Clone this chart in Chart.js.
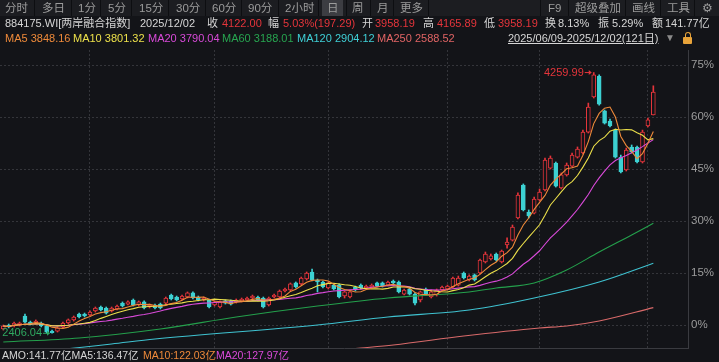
<!DOCTYPE html>
<html>
<head>
<meta charset="utf-8">
<script src="https://cdn.jsdelivr.net/npm/chart.js"></script>
<style>
  body { margin: 0; background: #131418; width: 719px; height: 362px; overflow: hidden; position: relative;
         font-family: "Liberation Sans", "Noto Sans CJK SC", sans-serif; }
  canvas { position: absolute; left: 0; top: 0; }
  .bar { position: absolute; left: 0; top: 0; width: 719px; height: 16px; background: #1c1d21; }
  .t { position: absolute; white-space: nowrap; font-size: 11px; line-height: 14px; color: #d6d6d6; }
  .tb { color: #9c9c9c; font-size: 11.5px; }
  .sm { font-size: 10.5px; }
  .sep { position: absolute; top: 0; width: 1px; height: 16px; background: #0d0e11; }
  .sel { position: absolute; left: 322px; top: 0; width: 21px; height: 16px; background: #3c3d42; }
  .red { color: #e5353b; }
  .lock { position: absolute; left: 683px; top: 37px; width: 9px; height: 7px; background: #e8a33a; border-radius: 1px; }
  .shackle { position: absolute; left: 684.5px; top: 32px; width: 4px; height: 5px; border: 1.5px solid #e8a33a; border-bottom: none; border-radius: 3px 3px 0 0; }
</style>
</head>
<body>
<canvas id="kline" width="719" height="362"></canvas>

<div class="bar"></div>
<div id="toolbar"></div>
<div id="info"></div>
<div id="ma-row"></div>
<div class="t" style="left:508px;top:31px;text-decoration:underline;">2025/06/09-2025/12/02(121日)</div>
<div class="t" style="left:665px;top:31px;color:#8a8a8a;font-size:10px;">▼</div>
<div class="shackle"></div>
<div class="lock"></div>
<div id="amo-row"></div>

<script>
// Daily OHLC, 2025/06/09 - 2025/12/02 (121 trading days)
const opens = [
  2437, 2465, 2458, 2465, 2529, 2486, 2479, 2479, 2458, 2422,
  2422, 2451, 2479, 2501, 2543, 2543, 2536, 2565, 2593, 2586,
  2565, 2579, 2621, 2614, 2643, 2607, 2629, 2593, 2607, 2614,
  2621, 2678, 2664, 2650, 2664, 2693, 2664, 2643, 2643, 2607,
  2593, 2636, 2636, 2629, 2636, 2643, 2657, 2664, 2657, 2607,
  2664, 2664, 2707, 2714, 2764, 2757, 2792, 2842, 2785, 2771,
  2728, 2749, 2749, 2671, 2664, 2735, 2749, 2728, 2735, 2764,
  2764, 2749, 2778, 2771, 2685, 2721, 2685, 2643, 2721, 2664,
  2678, 2714, 2721, 2735, 2749, 2835, 2785, 2821, 2835, 2913,
  2934, 2970, 2913, 3034, 3069, 3226, 3460, 3268, 3261, 3354,
  3425, 3581, 3617, 3439, 3532, 3595, 3659, 3688, 3837, 4086,
  4235, 3987, 3915, 3851, 3659, 3567, 3731, 3731, 3624, 3880,
  3958.19
];
const highs = [
  2465, 2472, 2486, 2486, 2543, 2493, 2501, 2486, 2465, 2429,
  2451, 2486, 2508, 2529, 2550, 2550, 2565, 2593, 2600, 2593,
  2593, 2607, 2629, 2636, 2650, 2636, 2636, 2614, 2614, 2621,
  2664, 2685, 2671, 2678, 2700, 2700, 2671, 2664, 2650, 2636,
  2636, 2643, 2643, 2650, 2657, 2664, 2678, 2671, 2664, 2664,
  2685, 2714, 2728, 2764, 2771, 2806, 2842, 2863, 2792, 2778,
  2771, 2757, 2757, 2707, 2707, 2742, 2757, 2749, 2757, 2771,
  2771, 2778, 2785, 2778, 2721, 2728, 2693, 2707, 2728, 2714,
  2721, 2742, 2749, 2806, 2813, 2842, 2821, 2828, 2934, 2984,
  2970, 2977, 2998, 3084, 3176, 3404, 3468, 3283, 3375, 3432,
  3652, 3667, 3624, 3546, 3617, 3688, 3731, 3851, 4043, 4259.99,
  4243, 3994, 3930, 3859, 3674, 3723, 3745, 3738, 3851, 3937,
  4165.89
];
const lows = [
  2429, 2444, 2451, 2458, 2479, 2465, 2472, 2451, 2408, 2406.04,
  2415, 2444, 2472, 2493, 2515, 2522, 2529, 2557, 2565, 2543,
  2557, 2572, 2593, 2607, 2600, 2600, 2579, 2586, 2579, 2579,
  2614, 2643, 2636, 2643, 2657, 2650, 2636, 2636, 2586, 2600,
  2586, 2614, 2607, 2621, 2629, 2636, 2650, 2636, 2586, 2600,
  2657, 2657, 2700, 2707, 2728, 2749, 2785, 2778, 2700, 2728,
  2721, 2714, 2657, 2657, 2657, 2707, 2721, 2721, 2728, 2735,
  2735, 2742, 2757, 2693, 2678, 2678, 2607, 2629, 2678, 2657,
  2671, 2707, 2714, 2728, 2742, 2792, 2778, 2778, 2828, 2906,
  2927, 2920, 2906, 3012, 3062, 3219, 3276, 3226, 3254, 3347,
  3418, 3574, 3446, 3432, 3524, 3588, 3652, 3681, 3830, 4079,
  4029, 3894, 3873, 3652, 3546, 3560, 3688, 3617, 3617, 3873,
  3958.19
];
const closes = [
  2458, 2451, 2479, 2479, 2486, 2472, 2493, 2458, 2415, 2410,
  2444, 2479, 2501, 2522, 2522, 2529, 2557, 2586, 2572, 2550,
  2586, 2600, 2600, 2629, 2607, 2629, 2586, 2607, 2586, 2586,
  2657, 2650, 2643, 2671, 2693, 2657, 2643, 2657, 2593, 2629,
  2629, 2621, 2614, 2643, 2650, 2657, 2671, 2643, 2593, 2657,
  2678, 2707, 2721, 2757, 2735, 2799, 2835, 2785, 2771, 2735,
  2764, 2721, 2664, 2700, 2700, 2714, 2728, 2742, 2749, 2742,
  2742, 2771, 2764, 2700, 2714, 2685, 2621, 2700, 2685, 2700,
  2714, 2735, 2742, 2799, 2799, 2799, 2813, 2785, 2927, 2970,
  2956, 2927, 2991, 3055, 3162, 3389, 3283, 3240, 3361, 3411,
  3638, 3652, 3453, 3532, 3603, 3674, 3716, 3837, 4015, 4243,
  4036, 3901, 3880, 3659, 3553, 3709, 3695, 3624, 3837, 3924.71,
  4122.00
];

// long moving averages (day index -> value)
const ma60Idx = [0, 14, 29, 43, 58, 71, 86, 91, 98, 104, 110, 116, 120];
const ma60Val = [2344, 2373, 2437, 2522, 2600, 2657, 2700, 2728, 2764, 2856, 2984, 3105, 3188.01];
const ma120Idx = [0, 15, 20, 28, 58, 71, 86, 98, 110, 120];
const ma120Val = [2245, 2309, 2330, 2365, 2465, 2522, 2572, 2657, 2771, 2904.12];
const ma250Idx = [60, 66, 72, 85, 99, 104, 110, 120];
const ma250Val = [2280, 2301, 2323, 2387, 2444, 2458, 2494, 2588.52];

const basePrice = 2465;               // 0% line
const pctTicks = [0, 15, 30, 45, 60, 75];
const monthStartIdx = [16, 39, 60, 82, 99, 119];

const UP = '#e5353b', DOWN = '#3dd1d2', BG = '#131418';
const GRID = '#34353a';
const FONT = '"Liberation Sans", "Noto Sans CJK SC", sans-serif';

// header text
const toolItems = [['分时', 5], ['多日', 42], ['1分', 78], ['5分', 108], ['15分', 139], ['30分', 176], ['60分', 212],
  ['90分', 248], ['2小时', 285], ['日', 327], ['周', 352], ['月', 377], ['更多', 400],
  ['F9', 548], ['超级叠加', 575], ['画线', 632], ['工具', 667], ['⚙', 702]];
const toolSeps = [34, 71, 100, 131, 168, 205, 241, 278, 318, 346, 370, 393, 428, 540, 568, 625, 660, 694];
const infoItems = [['884175.WI[两岸融合指数]', 5, ''], ['2025/12/02', 140, ''], ['收', 207, ''], ['4122.00', 222, 'red'],
  ['幅', 268, ''], ['5.03%(197.29)', 283, 'red'], ['开', 362, ''], ['3958.19', 375, 'red'],
  ['高', 423, ''], ['4165.89', 437, 'red'], ['低', 484, ''], ['3958.19', 498, 'red'],
  ['换', 545, ''], ['8.13%', 558, ''], ['振', 598, ''], ['5.29%', 612, ''], ['额', 652, ''], ['141.77亿', 665, '']];
const maItems = [['MA5 3848.16', 5, '#ee8a3a'], ['MA10 3801.32', 73, '#ece04a'], ['MA20 3790.04', 148, '#d94ad9'],
  ['MA60 3188.01', 222, '#27a550'], ['MA120 2904.12', 297, '#3fcfd6'], ['MA250 2588.52', 377, '#e06464']];
const amoItems = [['AMO:141.77亿MA5:136.47亿', 2, '#d6d6d6'], ['MA10:122.03亿', 143, '#ee8a3a'], ['MA20:127.97亿', 216, '#d94ad9']];

function addText(parentId, items, top, cls) {
  const parent = document.getElementById(parentId);
  items.forEach(([txt, x, c]) => {
    const el = document.createElement('div');
    el.className = 't ' + (cls || '') + (c === 'red' ? ' red' : '');
    el.textContent = txt;
    el.style.left = x + 'px';
    el.style.top = top + 'px';
    if (c && c !== 'red') el.style.color = c;
    parent.appendChild(el);
  });
}

const tb = document.getElementById('toolbar');
toolSeps.forEach(x => {
  const s = document.createElement('div');
  s.className = 'sep';
  s.style.left = x + 'px';
  tb.appendChild(s);
});
const selBox = document.createElement('div');
selBox.className = 'sel';
tb.appendChild(selBox);
addText('toolbar', toolItems, 1, 'tb');
addText('info', infoItems, 16);
addText('ma-row', maItems, 31);
addText('amo-row', amoItems, 348, 'sm');

function movingAvg(src, n) {
  return src.map((v, i) => {
    const win = src.slice(Math.max(0, i - n + 1), i + 1);
    return win.reduce((a, b) => a + b, 0) / win.length;
  });
}
const pts = arr => arr.map((v, i) => ({x: i, y: v}));
const sparse = (ix, vals) => ix.map((x, k) => ({x: x, y: vals[k]}));
const isUp = i => closes[i] >= opens[i];

function lineSet(data, color, smooth) {
  return {
    type: 'line', data: data, borderColor: color, borderWidth: 1.1, pointRadius: 0,
    cubicInterpolationMode: smooth ? 'monotone' : 'default', tension: 0, order: 0
  };
}

// high / low markers
const markPlugin = {
  id: 'marks',
  afterDatasetsDraw(chart) {
    const {ctx, scales: {x, y}} = chart;
    let hi = 0, lo = 0;
    highs.forEach((v, i) => { if (v > highs[hi]) hi = i; });
    lows.forEach((v, i) => { if (v < lows[lo]) lo = i; });
    ctx.save();
    ctx.font = '11px ' + FONT;
    ctx.textBaseline = 'middle';
    ctx.textAlign = 'right';
    ctx.lineWidth = 1;

    [[hi, highs[hi], UP], [lo, lows[lo], '#2fa860']].forEach(([i, v, col]) => {
      const px = x.getPixelForValue(i), py = y.getPixelForValue(v);
      ctx.fillStyle = col;
      ctx.strokeStyle = col;
      ctx.fillText(v.toFixed(2), px - 10, py);
      ctx.beginPath();
      ctx.moveTo(px - 9, py);
      ctx.lineTo(px - 3, py);
      ctx.stroke();
      ctx.beginPath();
      ctx.moveTo(px - 2, py);
      ctx.lineTo(px - 5, py - 2.5);
      ctx.lineTo(px - 5, py + 2.5);
      ctx.closePath();
      ctx.fill();
    });
    ctx.restore();
  }
};

new Chart(document.getElementById('kline'), {
  type: 'bar',
  data: {
    datasets: [
      lineSet(pts(movingAvg(closes, 5)), '#ee8a3a'),
      lineSet(pts(movingAvg(closes, 10)), '#ece04a'),
      lineSet(pts(movingAvg(closes, 20)), '#d94ad9'),
      lineSet(sparse(ma60Idx, ma60Val), '#24a04c', true),
      lineSet(sparse(ma120Idx, ma120Val), '#3fc2d0', true),
      lineSet(sparse(ma250Idx, ma250Val), '#d96a6a', true),
      {
        // candle bodies
        data: closes.map((c, i) => ({x: i, y: [opens[i], c]})),
        backgroundColor: ctx => isUp(ctx.dataIndex) ? BG : DOWN,
        borderColor: ctx => isUp(ctx.dataIndex) ? UP : DOWN,
        borderWidth: 1,
        borderSkipped: false,
        barThickness: 4,
        minBarLength: 1,
        grouped: false,
        order: 1
      },
      {
        // wicks
        data: closes.map((c, i) => ({x: i, y: [lows[i], highs[i]]})),
        backgroundColor: ctx => isUp(ctx.dataIndex) ? UP : DOWN,
        borderWidth: 0,
        barThickness: 1,
        grouped: false,
        order: 2
      }
    ]
  },
  options: {
    responsive: false,
    animation: false,
    layout: {padding: {top: 50, bottom: 14, left: 0, right: 0}},
    plugins: {legend: {display: false}, tooltip: {enabled: false}},
    scales: {
      x: {
        type: 'linear',
        offset: false,
        min: -0.61,
        max: 126.4,
        ticks: {display: false},
        grid: {color: GRID, drawTicks: false, offset: false},
        border: {color: '#3a3b40', dash: [2, 2]},
        afterBuildTicks: s => { s.ticks = monthStartIdx.map(v => ({value: v})); },
        afterFit: s => { s.height = 0; }
      },
      y: {
        position: 'right',
        min: basePrice - 23 * basePrice * 0.15 / 52,
        max: basePrice + 275 * basePrice * 0.15 / 52,
        ticks: {
          color: '#9c9c9c',
          padding: 3,
          font: {size: 11.5, family: FONT},
          callback: v => Math.round((v / basePrice - 1) * 100) + '%'
        },
        grid: {color: GRID, drawTicks: false},
        border: {color: '#3a3b40', dash: [2, 2]},
        afterBuildTicks: s => { s.ticks = pctTicks.map(p => ({value: basePrice * (1 + p / 100)})); },
        afterFit: s => { s.width = 31; }
      }
    }
  },
  plugins: [markPlugin]
});
</script>
</body>
</html>
